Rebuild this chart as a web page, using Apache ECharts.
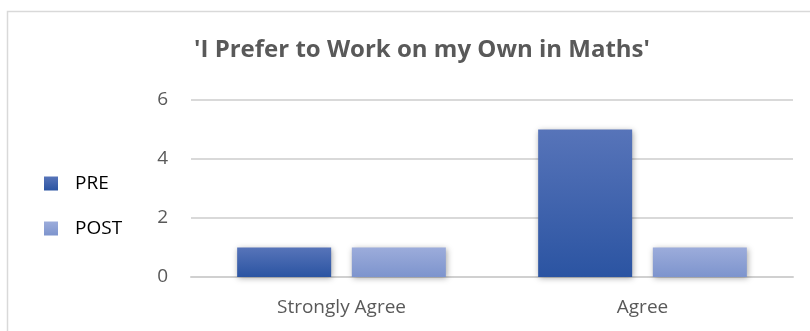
<!DOCTYPE html>
<html>
<head>
<meta charset="utf-8">
<script src="https://cdn.jsdelivr.net/npm/echarts@6/dist/echarts.min.js"></script>
<style>
  html, body { margin: 0; padding: 0; background: #fff; }
  #chart { width: 810px; height: 331px; }
</style>
</head>
<body>
<div id="chart"></div>
<script>
var categories = ['Strongly Agree', 'Agree'];
var preData = [1, 5];
var postData = [1, 1];
var yTicks = { min: 0, max: 6, interval: 2 };

var chart = echarts.init(document.getElementById('chart'));

function grad(top, bottom) {
  return new echarts.graphic.LinearGradient(0, 0, 0, 1, [
    { offset: 0, color: top },
    { offset: 1, color: bottom }
  ]);
}

chart.setOption({
  animation: false,
  textStyle: { fontFamily: 'Open Sans' },
  title: {
    text: "'I Prefer to Work on my Own in Maths'",
    left: 417,
    top: 33,
    textAlign: 'center',
    textStyle: {
      fontFamily: 'Open Sans',
      fontSize: 24,
      fontWeight: 'bold',
      color: '#595959'
    }
  },
  graphic: [{
    type: 'rect',
    shape: { x: 7.5, y: 11.5, width: 900, height: 400 },
    style: { fill: 'none', stroke: '#d9d9d9', lineWidth: 1.5 },
    silent: true
  }],
  legend: {
    orient: 'vertical',
    left: 39,
    top: 166,
    itemWidth: 14,
    itemHeight: 14,
    itemGap: 20,
    icon: 'rect',
    textStyle: { fontSize: 19, lineHeight: 20, color: '#000', padding: [5, 0, 0, 12] },
    data: ['PRE', 'POST']
  },
  grid: { left: 191, right: 17, top: 100, bottom: 54 },
  xAxis: {
    type: 'category',
    data: categories,
    axisTick: { show: false },
    axisLine: { lineStyle: { color: '#d0d0d0', width: 2 } },
    axisLabel: { fontSize: 19, color: '#595959', margin: 21 }
  },
  yAxis: {
    type: 'value',
    min: yTicks.min,
    max: yTicks.max,
    interval: yTicks.interval,
    axisLine: { show: false },
    axisTick: { show: false },
    axisLabel: { fontSize: 19, color: '#595959', margin: 23 },
    splitLine: { lineStyle: { color: '#d9d9d9', width: 2 } }
  },
  series: [{
    name: 'PRE',
    type: 'bar',
    data: preData,
    barWidth: 94,
    barGap: '22%',
    itemStyle: {
      color: grad('#5774b9', '#2b54a2'),
      shadowColor: 'rgba(0,0,0,0.35)',
      shadowBlur: 6,
      shadowOffsetX: 1,
      shadowOffsetY: 1
    }
  }, {
    name: 'POST',
    type: 'bar',
    data: postData,
    barWidth: 94,
    itemStyle: {
      color: grad('#9cacdb', '#7d94cd'),
      shadowColor: 'rgba(0,0,0,0.35)',
      shadowBlur: 6,
      shadowOffsetX: 1,
      shadowOffsetY: 1
    }
  }]
});
</script>
</body>
</html>
